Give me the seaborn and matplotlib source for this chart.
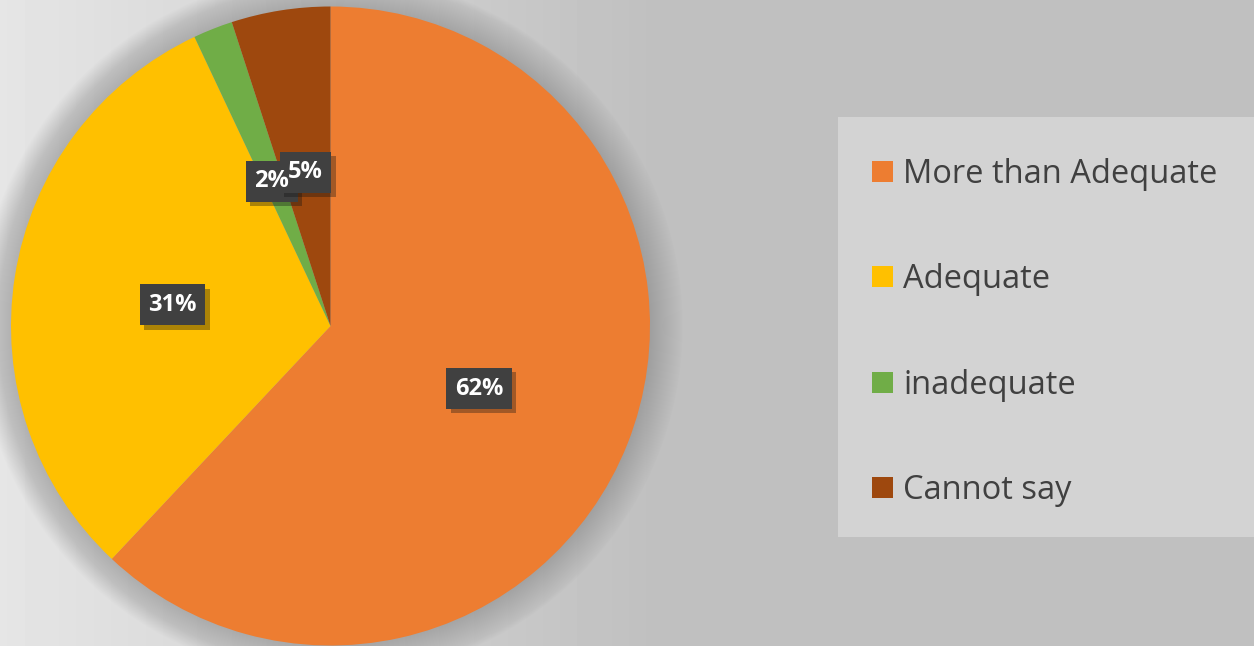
import numpy as np
import matplotlib
matplotlib.use("Agg")
import matplotlib.pyplot as plt
import matplotlib.patches as mpatches
import matplotlib.patheffects as pe
import seaborn as sns

categories = ["More than Adequate", "Adequate", "inadequate", "Cannot say"]
values = [62, 31, 2, 5]
colors = ["#ED7D31", "#FFC000", "#70AD47", "#9E480E"]

sns.set_theme(style="white")
plt.rcParams['font.family'] = ['Open Sans', 'DejaVu Sans']

W, H = 1254, 646
fig = plt.figure(figsize=(W / 100, H / 100), dpi=100)

# background gradient
bg = fig.add_axes([0, 0, 1, 1], zorder=-10)
xs = np.arange(W)
t = np.clip(xs / 650.0, 0, 1)
row = 0.90 - (0.90 - 0.753) * t
img = np.tile(row, (H, 1))
bg.imshow(img, cmap="gray", vmin=0, vmax=1, aspect="auto", extent=[0, W, 0, H])
bg.set_axis_off()

# legend panel
fig.patches.append(mpatches.Rectangle((838 / W, (H - 537) / H), (W - 838) / W, 420 / H,
                                      transform=fig.transFigure, facecolor="#D3D3D3",
                                      edgecolor="none", zorder=-5))

cx, cy, r = 330.5, 326, 319.5
ax = fig.add_axes([(cx - r) / W, (H - cy - r) / H, 2 * r / W, 2 * r / H])
ax.set_xlim(-1, 1)
ax.set_ylim(-1, 1)
ax.set_aspect("equal")
ax.set_axis_off()

# soft halo behind pie
n = 32
for i in range(n):
    rr = 1.0 + 0.0032 * (n - i)
    ax.add_patch(mpatches.Circle((0, 0), rr, facecolor="#404040", alpha=0.007,
                                 edgecolor="none", clip_on=False, zorder=0))

wedges, texts, autotexts = ax.pie(values, colors=colors, startangle=90, counterclock=False,
                                  autopct=lambda p: f"{p:.0f}%", pctdistance=0.5,
                                  radius=1, wedgeprops=dict(linewidth=0, zorder=2),
                                  textprops=dict(color="white", fontsize=17, fontweight="bold"))
ax.set_xlim(-1, 1)
ax.set_ylim(-1, 1)
for at in autotexts:
    x, y = at.get_position()
    # box drawn beneath all label texts
    box = ax.text(x, y - 0.012, at.get_text(), ha="center", va="center", fontsize=17,
                  fontweight="bold", color="none", zorder=4)
    box.set_bbox(dict(boxstyle="square,pad=0.36", facecolor="#404040", edgecolor="none"))
    box.get_bbox_patch().set_path_effects([pe.SimplePatchShadow(offset=(3, -3), alpha=0.35), pe.Normal()])
    at.set_position((x, y - 0.012))
    at.set_zorder(6)

handles = [mpatches.Patch(facecolor=c, edgecolor="none") for c in colors]
leg = fig.legend(handles, categories, loc="center left", bbox_to_anchor=(843 / W, (H - 332.5) / H),
                 frameon=False, fontsize=23.5, labelcolor="#404040",
                 handlelength=0.62, handleheight=0.62, handletextpad=0.32, labelspacing=2.22)

fig.savefig("out.png", dpi=100)
